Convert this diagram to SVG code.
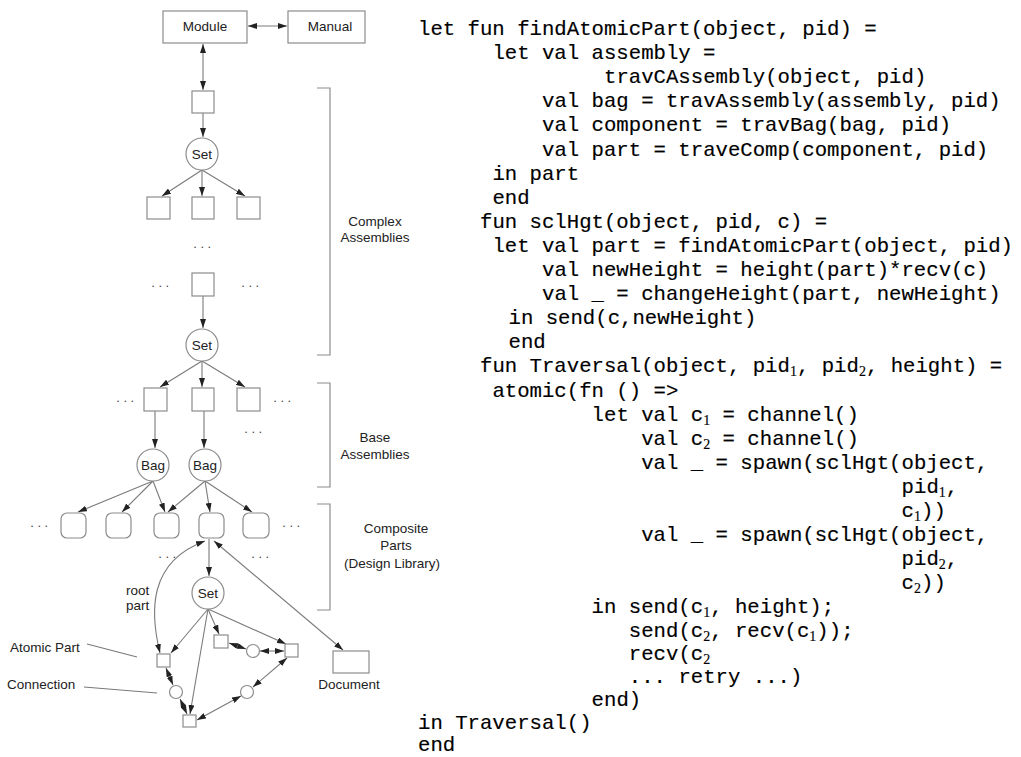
<svg xmlns="http://www.w3.org/2000/svg" width="1021" height="757" viewBox="0 0 1021 757">
<style>
.box{fill:#fff;stroke:#8c8c8c;stroke-width:1.2}
.lbl{font-family:"Liberation Sans",Arial,sans-serif;font-size:13.5px;fill:#222}
.mid{text-anchor:middle}
.dots{font-family:"Liberation Sans",Arial,sans-serif;font-size:13px;fill:#444;letter-spacing:3.5px;text-anchor:middle}
.edge{stroke:#7a7a7a;stroke-width:1.1;fill:none}
.e1{marker-end:url(#ah)}
.e2{marker-start:url(#ah);marker-end:url(#ah)}
.brk{stroke:#8c8c8c;stroke-width:1.2;fill:none}
.code{font-family:"Liberation Mono","Courier New",monospace;font-size:20.66px;fill:#000;stroke:#000;stroke-width:0.15}
.sub{font-family:"Liberation Serif","Times New Roman",serif;font-size:14px}
</style>
<defs>
<marker id="ah" viewBox="0 0 9 6" refX="9" refY="3" markerWidth="9" markerHeight="6" markerUnits="userSpaceOnUse" orient="auto-start-reverse">
<path d="M0,0 L9,3 L0,6 z" fill="#222"/>
</marker>
</defs>
<rect width="1021" height="757" fill="#fff"/>

<g id="connectors">
<path class="edge e2" d="M248,26 H287"/>
<path class="edge e2" d="M203,44 V90"/>
<path class="edge e1" d="M203,113 V137"/>
<path class="edge e1" d="M202,170 L162,196"/>
<path class="edge e1" d="M202,170 V196"/>
<path class="edge e1" d="M202,170 L245,196"/>
<path class="edge e1" d="M203,296 V328"/>
<path class="edge e1" d="M202,361 L160,387"/>
<path class="edge e1" d="M202,361 V387"/>
<path class="edge e1" d="M202,361 L245,387"/>
<path class="edge e1" d="M155,411 V448"/>
<path class="edge e1" d="M204,411 V448"/>
<path class="edge e1" d="M153,481 L78,512"/>
<path class="edge e1" d="M153,481 L122,512"/>
<path class="edge e1" d="M153,481 L165,512"/>
<path class="edge e1" d="M205,481 L168,512"/>
<path class="edge e1" d="M205,481 L210,512"/>
<path class="edge e1" d="M205,481 L252,512"/>
<path class="edge e1" d="M209,539 V576"/>
<path class="edge e2" d="M160,653 C150,612 148,562 205,541"/>
<path class="edge e2" d="M214,541 L343,650"/>
<path class="edge e1" d="M208,609 L171,653"/>
<path class="edge e1" d="M208,609 L190,714"/>
<path class="edge e1" d="M208,609 L219,634"/>
<path class="edge e1" d="M208,609 L286,644"/>
<path class="edge e2" d="M166,668 L173,685"/>
<path class="edge e2" d="M180,699 L187,714"/>
<path class="edge e2" d="M229,643 L246,649"/>
<path class="edge e2" d="M260,651 L284,651"/>
<path class="edge e2" d="M287,658 L253,687"/>
<path class="edge e2" d="M241,696 L197,720"/>
<path class="edge" d="M87,644 L137,657"/>
<path class="edge" d="M84,687 L157,693"/>
</g>

<g id="module"><rect class="box" x="163" y="11" width="84" height="32"/><text class="lbl mid" x="205" y="31">Module</text></g>
<g id="manual"><rect class="box" x="288" y="11" width="77" height="32"/><text class="lbl mid" x="330" y="31">Manual</text></g>

<g id="ca-root"><rect class="box" x="192" y="91" width="22" height="22"/></g>
<g id="set1"><circle class="box" cx="202" cy="154" r="16"/><text class="lbl mid" x="202" y="159">Set</text></g>
<g id="ca-1"><rect class="box" x="147" y="197" width="23" height="22"/></g>
<g id="ca-2"><rect class="box" x="192" y="197" width="22" height="22"/></g>
<g id="ca-3"><rect class="box" x="237" y="197" width="23" height="22"/></g>
<g id="ca-mid"><rect class="box" x="192" y="273" width="22" height="23"/></g>
<g id="set2"><circle class="box" cx="202" cy="345" r="16"/><text class="lbl mid" x="202" y="350">Set</text></g>
<g id="ba-1"><rect class="box" x="144" y="388" width="23" height="23"/></g>
<g id="ba-2"><rect class="box" x="192" y="388" width="22" height="23"/></g>
<g id="ba-3"><rect class="box" x="237" y="388" width="23" height="23"/></g>
<g id="bag1"><circle class="box" cx="153" cy="465" r="16"/><text class="lbl mid" x="153" y="470">Bag</text></g>
<g id="bag2"><circle class="box" cx="205" cy="465" r="16"/><text class="lbl mid" x="205" y="470">Bag</text></g>
<g id="cp-1"><rect class="box" x="61" y="513" width="25" height="25" rx="6"/></g>
<g id="cp-2"><rect class="box" x="106" y="513" width="25" height="25" rx="6"/></g>
<g id="cp-3"><rect class="box" x="154" y="513" width="25" height="25" rx="6"/></g>
<g id="cp-4"><rect class="box" x="199" y="513" width="25" height="25" rx="6"/></g>
<g id="cp-5"><rect class="box" x="243" y="513" width="26" height="25" rx="6"/></g>
<g id="set3"><circle class="box" cx="208" cy="593" r="16"/><text class="lbl mid" x="208" y="598">Set</text></g>
<g id="ap-1"><rect class="box" x="157" y="654" width="13" height="13"/></g>
<g id="ap-2"><rect class="box" x="183" y="715" width="13" height="12"/></g>
<g id="ap-3"><rect class="box" x="214" y="635" width="14" height="13"/></g>
<g id="ap-4"><rect class="box" x="285" y="644" width="13" height="13"/></g>
<g id="conn-1"><circle class="box" cx="176" cy="692" r="6.5"/></g>
<g id="conn-2"><circle class="box" cx="253" cy="651" r="6.5"/></g>
<g id="conn-3"><circle class="box" cx="247" cy="692" r="6.5"/></g>
<g id="document"><rect class="box" x="333" y="651" width="36" height="22"/><text class="lbl mid" x="349" y="689">Document</text></g>

<g id="dots">
<text class="dots" x="204" y="248">...</text>
<text class="dots" x="162" y="287">...</text>
<text class="dots" x="252" y="287">...</text>
<text class="dots" x="127" y="402">...</text>
<text class="dots" x="284" y="402">...</text>
<text class="dots" x="255" y="433">...</text>
<text class="dots" x="41" y="527">...</text>
<text class="dots" x="293" y="527">...</text>
<text class="dots" x="169" y="558">...</text>
<text class="dots" x="262" y="558">...</text>
</g>

<g id="brackets">
<path class="brk" d="M317,88 H330 V355 H317"/>
<path class="brk" d="M317,383 H330 V487 H317"/>
<path class="brk" d="M317,504 H330 V610 H317"/>
</g>

<g id="labels">
<text class="lbl mid" x="375" y="226">Complex</text>
<text class="lbl mid" x="375" y="242">Assemblies</text>
<text class="lbl mid" x="375" y="442">Base</text>
<text class="lbl mid" x="375" y="459">Assemblies</text>
<text class="lbl mid" x="396" y="533">Composite</text>
<text class="lbl mid" x="396" y="550">Parts</text>
<text class="lbl mid" x="392" y="568">(Design Library)</text>
<text class="lbl" x="126" y="595">root</text>
<text class="lbl" x="126" y="610">part</text>
<text class="lbl" x="10" y="652">Atomic Part</text>
<text class="lbl" x="7" y="689">Connection</text>
</g>

<g id="code" class="code">
<text x="418" y="35">let fun findAtomicPart(object, pid) =</text>
<text x="492.4" y="59.1">let val assembly =</text>
<text x="604" y="83.2">travCAssembly(object, pid)</text>
<text x="542" y="107.3">val bag = travAssembly(assembly, pid)</text>
<text x="542" y="131.4">val component = travBag(bag, pid)</text>
<text x="542" y="155.5">val part = traveComp(component, pid)</text>
<text x="492.4" y="179.6">in part</text>
<text x="492.4" y="203.7">end</text>
<text x="480" y="227.8">fun sclHgt(object, pid, c) =</text>
<text x="492.4" y="251.9">let val part = findAtomicPart(object, pid)</text>
<text x="542" y="276">val newHeight = height(part)*recv(c)</text>
<text x="542" y="300.1">val _ = changeHeight(part, newHeight)</text>
<text x="508.5" y="324.2">in send(c,newHeight)</text>
<text x="508.5" y="348.3">end</text>
<text x="480" y="372.4">fun Traversal(object, pid<tspan class="sub" dy="4">1</tspan><tspan dy="-4">, pid</tspan><tspan class="sub" dy="4">2</tspan><tspan dy="-4">, height) =</tspan></text>
<text x="492.4" y="396.5">atomic(fn () =&gt;</text>
<text x="591.6" y="420.6">let val c<tspan class="sub" dy="4">1</tspan><tspan dy="-4"> = channel()</tspan></text>
<text x="641.2" y="444.7">val c<tspan class="sub" dy="4">2</tspan><tspan dy="-4"> = channel()</tspan></text>
<text x="641.2" y="468.8">val _ = spawn(sclHgt(object,</text>
<text x="901.6" y="492.9">pid<tspan class="sub" dy="4">1</tspan><tspan dy="-4">,</tspan></text>
<text x="901.6" y="517">c<tspan class="sub" dy="4">1</tspan><tspan dy="-4">))</tspan></text>
<text x="641.2" y="541.1">val _ = spawn(sclHgt(object,</text>
<text x="901.6" y="565.2">pid<tspan class="sub" dy="4">2</tspan><tspan dy="-4">,</tspan></text>
<text x="901.6" y="589.3">c<tspan class="sub" dy="4">2</tspan><tspan dy="-4">))</tspan></text>
<text x="591.6" y="613.4">in send(c<tspan class="sub" dy="4">1</tspan><tspan dy="-4">, height);</tspan></text>
<text x="628.8" y="636.5">send(c<tspan class="sub" dy="4">2</tspan><tspan dy="-4">, recv(c</tspan><tspan class="sub" dy="4">1</tspan><tspan dy="-4">));</tspan></text>
<text x="628.8" y="659.5">recv(c<tspan class="sub" dy="4">2</tspan></text>
<text x="628.8" y="682.5">... retry ...)</text>
<text x="591.6" y="705.5">end)</text>
<text x="418" y="728.5">in Traversal()</text>
<text x="418" y="751">end</text>
</g>
</svg>
